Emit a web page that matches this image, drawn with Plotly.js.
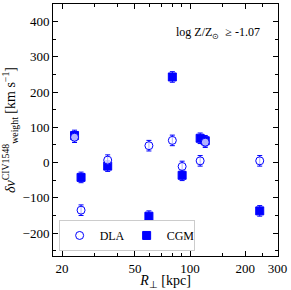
<!DOCTYPE html>
<html><head><meta charset="utf-8">
<script src="https://cdn.plot.ly/plotly-3.0.1.min.js"></script>
<style>html,body{margin:0;padding:0;background:#fff;}#chart{width:291px;height:290px;}</style>
</head><body><div id="chart"></div>
<script>
const dlaR = [23.4, 25.4, 35.5, 59.6, 80.0, 90.5, 113.5, 121.0, 240.0];
const dlaV = [72, -135, 7, 48, 63, -11, 5, 58, 5];
const dlaErr = [15, 15, 15, 15, 15, 15, 15, 15, 15];
const cgmR = [23.4, 25.4, 35.5, 59.6, 80.0, 90.5, 113.5, 121.0, 240.0];
const cgmV = [77, -42, -10, -152, 243, -36, 69, 62, -137];
const cgmErr = [15, 15, 15, 15, 15, 15, 15, 15, 15];
const xTickVals = [20, 50, 100, 200, 300];
const xTickText = ['20', '50', '100', '200', '300'];
const xMinor = [30, 40, 60, 70, 80, 90, 150, 250];
const yTickVals = [-200, -100, 0, 100, 200, 300, 400];
const yTickText = ['\u2212200', '\u2212100', '0', '100', '200', '300', '400'];

const blue = '#0000ff';
const serif = 'Liberation Serif, Times New Roman, serif';

const traces = [
  {
    x: cgmR, y: cgmV, type: 'scatter', mode: 'markers', name: 'CGM',
    marker: {symbol: 'square', size: 8, color: blue, line: {color: blue, width: 1}},
    error_y: {type: 'data', array: cgmErr, visible: true, color: blue, thickness: 1, width: 2.5}
  },
  {
    x: dlaR, y: dlaV, type: 'scatter', mode: 'markers', name: 'DLA',
    marker: {symbol: 'circle', size: 8, color: 'rgba(255,255,255,0.7)', line: {color: blue, width: 1}},
    error_y: {type: 'data', array: dlaErr, visible: true, color: blue, thickness: 1, width: 2.5}
  }
];

const axisCommon = {
  showline: true, linecolor: '#000', linewidth: 1, mirror: 'allticks',
  ticks: 'inside', ticklen: 5, tickcolor: '#000', tickwidth: 1,
  showgrid: false, zeroline: false,
  tickfont: {family: serif, size: 13, color: '#000'}
};

const layout = {
  width: 291, height: 290,
  margin: {l: 53, r: 13, t: 4, b: 34},
  paper_bgcolor: '#fff', plot_bgcolor: '#fff',
  showlegend: true,
  legend: {
    x: 0.025, y: 0.02, xanchor: 'left', yanchor: 'bottom', orientation: 'h',
    bgcolor: '#fff', bordercolor: '#ccc', borderwidth: 1,
    font: {family: serif, size: 12, color: '#000'},
    traceorder: 'reversed', itemwidth: 30, entrywidth: 22, entrywidthmode: 'pixels'
  },
  xaxis: Object.assign({}, axisCommon, {
    type: 'log', range: [Math.log10(17.85), Math.log10(302)],
    tickmode: 'array', tickvals: xTickVals, ticktext: xTickText,
    minor: {tickmode: 'array', tickvals: xMinor, ticks: 'inside', ticklen: 3, tickcolor: '#000'},
    title: {text: '<i>R</i><sub>\u22a5</sub> [kpc]', font: {family: serif, size: 14, color: '#000'}, standoff: 2}
  }),
  yaxis: Object.assign({}, axisCommon, {
    range: [-265, 450],
    tickmode: 'array', tickvals: yTickVals, ticktext: yTickText,
    minor: {dtick: 50, ticks: 'inside', ticklen: 3, tickcolor: '#000'},
    title: {text: '<i>\u03b4v</i><sup>CIV1548</sup><sub>weight</sub> [km s<sup>\u22121</sup>]', font: {family: serif, size: 14, color: '#000'}, standoff: 4}
  }),
  annotations: [{
    xref: 'paper', yref: 'paper', x: 0.93, y: 0.885, xanchor: 'right', yanchor: 'middle',
    showarrow: false,
    text: 'log Z/Z<sub>\u2299</sub>  \u2265 -1.07',
    font: {family: serif, size: 12, color: '#000'}
  }]
};

Plotly.newPlot('chart', traces, layout, {displayModeBar: false, staticPlot: true});
</script></body></html>
